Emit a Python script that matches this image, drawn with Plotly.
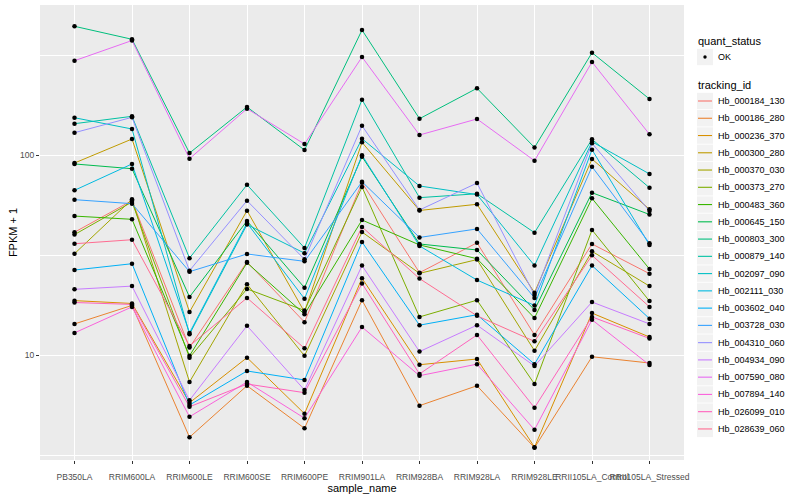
import plotly.graph_objects as go

samples = ["PB350LA", "RRIM600LA", "RRIM600LE", "RRIM600SE", "RRIM600PE", "RRIM901LA",
           "RRIM928BA", "RRIM928LA", "RRIM928LE", "RRII105LA_Control", "RRII105LA_Stressed"]

tracking_ids = ["Hb_000184_130", "Hb_000186_280", "Hb_000236_370", "Hb_000300_280", "Hb_000370_030",
                "Hb_000373_270", "Hb_000483_360", "Hb_000645_150", "Hb_000803_300", "Hb_000879_140",
                "Hb_002097_090", "Hb_002111_030", "Hb_003602_040", "Hb_003728_030", "Hb_004310_060",
                "Hb_004934_090", "Hb_007590_080", "Hb_007894_140", "Hb_026099_010", "Hb_028639_060"]

colors = ["#F8766D", "#EA8331", "#D89000", "#C09B00", "#A3A500", "#7CAE00", "#39B600", "#00BB4E",
          "#00BF7D", "#00C1A3", "#00BFC4", "#00BAE0", "#00B0F6", "#35A2FF", "#9590FF", "#C77CFF",
          "#E76BF3", "#FA62DB", "#FF62BC", "#FF6C91"]

quant_status = ["OK"]

# FPKM + 1 per sample, one list per tracking_id
Hb_000184_130 = [41.1, 59.2, 10.9, 29.2, 14.6, 72.7, 25.8, 36.4, 12.6, 35.9, 25.5]
Hb_000186_280 = [14.3, 17.7, 3.88, 7.02, 4.30, 18.8, 5.58, 7.02, 3.44, 9.8, 9.12]
Hb_000236_370 = [18.7, 18.1, 5.77, 9.7, 5.09, 24.2, 8.94, 9.55, 3.46, 16.2, 12.3]
Hb_000300_280 = [91.2, 120.2, 16.4, 52.7, 16.4, 115.7, 52.8, 56.7, 20.5, 95.5, 53.5]
Hb_000370_030 = [32.1, 60.0, 7.33, 22.6, 9.9, 41.2, 25.6, 30.0, 10.5, 33.0, 22.1]
Hb_000373_270 = [40.0, 58.2, 9.7, 21.4, 16.7, 69.2, 15.5, 18.8, 7.16, 42.2, 18.6]
Hb_000483_360 = [49.5, 47.7, 9.9, 28.9, 16.0, 47.3, 35.5, 30.3, 15.3, 60.7, 26.9]
Hb_000645_150 = [90.2, 85.4, 19.5, 46.8, 21.7, 98.1, 35.9, 33.5, 16.8, 64.8, 50.4]
Hb_000803_300 = [440.0, 379.0, 102.3, 173.8, 105.9, 421.7, 151.9, 215.6, 109.0, 324.7, 190.5]
Hb_000879_140 = [143.4, 156.1, 30.5, 71.0, 34.3, 189.0, 61.2, 64.0, 40.9, 119.8, 68.6]
Hb_002097_090 = [153.6, 134.9, 12.7, 44.9, 32.3, 120.6, 70.0, 63.4, 28.0, 116.5, 80.4]
Hb_002111_030 = [66.6, 90.2, 12.9, 45.7, 19.1, 99.7, 35.1, 23.7, 17.7, 106.3, 35.5]
Hb_003602_040 = [26.6, 28.6, 5.62, 8.32, 7.50, 36.7, 14.1, 15.9, 9.0, 28.0, 15.2]
Hb_003728_030 = [59.8, 57.1, 26.1, 32.0, 29.4, 73.5, 38.7, 42.7, 19.3, 87.4, 36.2]
Hb_004310_060 = [129.3, 154.3, 26.4, 59.1, 30.1, 140.1, 53.1, 72.4, 19.95, 114.4, 52.5]
Hb_004934_090 = [21.3, 22.1, 5.94, 14.0, 6.68, 28.0, 10.4, 14.1, 8.81, 18.4, 14.3]
Hb_007590_080 = [296.1, 373.6, 95.8, 170.4, 113.5, 309.0, 125.9, 151.4, 93.6, 291.7, 126.9]
Hb_007894_140 = [12.9, 17.4, 4.91, 7.33, 4.83, 13.8, 7.88, 9.0, 4.23, 15.0, 8.91]
Hb_026099_010 = [18.3, 17.9, 5.51, 7.16, 6.48, 22.8, 8.04, 12.6, 5.45, 15.5, 12.1]
Hb_028639_060 = [36.0, 37.7, 11.1, 19.3, 10.8, 43.7, 24.1, 15.7, 11.7, 31.5, 17.4]

series = [Hb_000184_130, Hb_000186_280, Hb_000236_370, Hb_000300_280, Hb_000370_030,
          Hb_000373_270, Hb_000483_360, Hb_000645_150, Hb_000803_300, Hb_000879_140,
          Hb_002097_090, Hb_002111_030, Hb_003602_040, Hb_003728_030, Hb_004310_060,
          Hb_004934_090, Hb_007590_080, Hb_007894_140, Hb_026099_010, Hb_028639_060]

FONT = "Liberation Sans, Arial, sans-serif"
W, H = 800, 500
ML, MR, MT, MB = 40, 116, 5, 40

fig = go.Figure()

for i, (tid, vals) in enumerate(zip(tracking_ids, series)):
    fig.add_trace(go.Scatter(
        x=samples, y=vals, mode="lines", name=tid,
        line=dict(color=colors[i], width=1), showlegend=False,
    ))

all_x = [s for vals in series for s in samples]
all_y = [v for vals in series for v in vals]
fig.add_trace(go.Scatter(
    x=all_x, y=all_y, mode="markers", name=quant_status[0],
    marker=dict(color="black", size=4.5), showlegend=False,
))

# ---- ggplot-style legend drawn in paper pixels ----
pw = W - ML - MR
ph = H - MT - MB


def px(x):
    return (x - ML) / pw


def py(y):
    return 1 - (y - MT) / ph


shapes = []
annotations = []
KEY_L, KEY_R = 697, 713
TXT_X = 715.5


def key_box(yc):
    shapes.append(dict(type="rect", xref="paper", yref="paper",
                       x0=px(KEY_L), x1=px(KEY_R), y0=py(yc + 8.2), y1=py(yc - 8.2),
                       fillcolor="#F2F2F2", line=dict(width=0), layer="above"))


def text(x, y, s, size, color="black"):
    annotations.append(dict(x=px(x), y=py(y), xref="paper", yref="paper", text=s,
                            showarrow=False, xanchor="left", yanchor="middle",
                            font=dict(family=FONT, size=size, color=color)))


text(695.5, 41, "quant_status", 11)
key_box(57)
shapes.append(dict(type="circle", xref="paper", yref="paper",
                   x0=px(703.3), x1=px(706.7), y0=py(58.7), y1=py(55.3),
                   fillcolor="black", line=dict(width=0), layer="above"))
text(TXT_X, 57, quant_status[0], 9)

text(695.5, 84.5, "tracking_id", 11)
for i, tid in enumerate(tracking_ids):
    yc = 101 + i * 17.26
    key_box(yc)
    shapes.append(dict(type="line", xref="paper", yref="paper",
                       x0=px(KEY_L + 1), x1=px(KEY_R - 1), y0=py(yc), y1=py(yc),
                       line=dict(color=colors[i], width=1.1), layer="above"))
    text(TXT_X, yc, tid, 9)

fig.update_layout(
    width=W, height=H,
    margin=dict(l=ML, r=MR, t=MT, b=MB),
    paper_bgcolor="white", plot_bgcolor="#EBEBEB",
    font=dict(family=FONT, size=9, color="#4D4D4D"),
    showlegend=False,
    shapes=shapes, annotations=annotations,
    xaxis=dict(
        type="category", categoryorder="array", categoryarray=samples,
        range=[-0.6, 10.6], tickangle=0, automargin=False,
        showgrid=True, gridcolor="white", gridwidth=1.2,
        ticks="outside", ticklen=3, tickcolor="#333333", tickwidth=1,
        ticklabelstandoff=6,
        tickfont=dict(size=8.5, color="#4D4D4D"),
        title=dict(text="sample_name", font=dict(size=11, color="black"), standoff=2),
        zeroline=False, showline=False,
    ),
    yaxis=dict(
        type="log", range=[0.475, 2.75], automargin=False,
        tickvals=[10, 100], ticktext=["10", "100"],
        showgrid=True, gridcolor="white", gridwidth=1.2,
        minor=dict(tickvals=[3.1623, 31.623, 316.23], showgrid=True, gridcolor="white", gridwidth=0.6, ticks=""),
        ticks="outside", ticklen=3, tickcolor="#333333", tickwidth=1,
        tickfont=dict(size=8.5, color="#4D4D4D"),
        title=dict(text="FPKM + 1", font=dict(size=11, color="black"), standoff=0),
        zeroline=False, showline=False,
    ),
)

fig.write_html("out.html", config={"displayModeBar": False},
               post_script="document.body.style.margin='0';")
